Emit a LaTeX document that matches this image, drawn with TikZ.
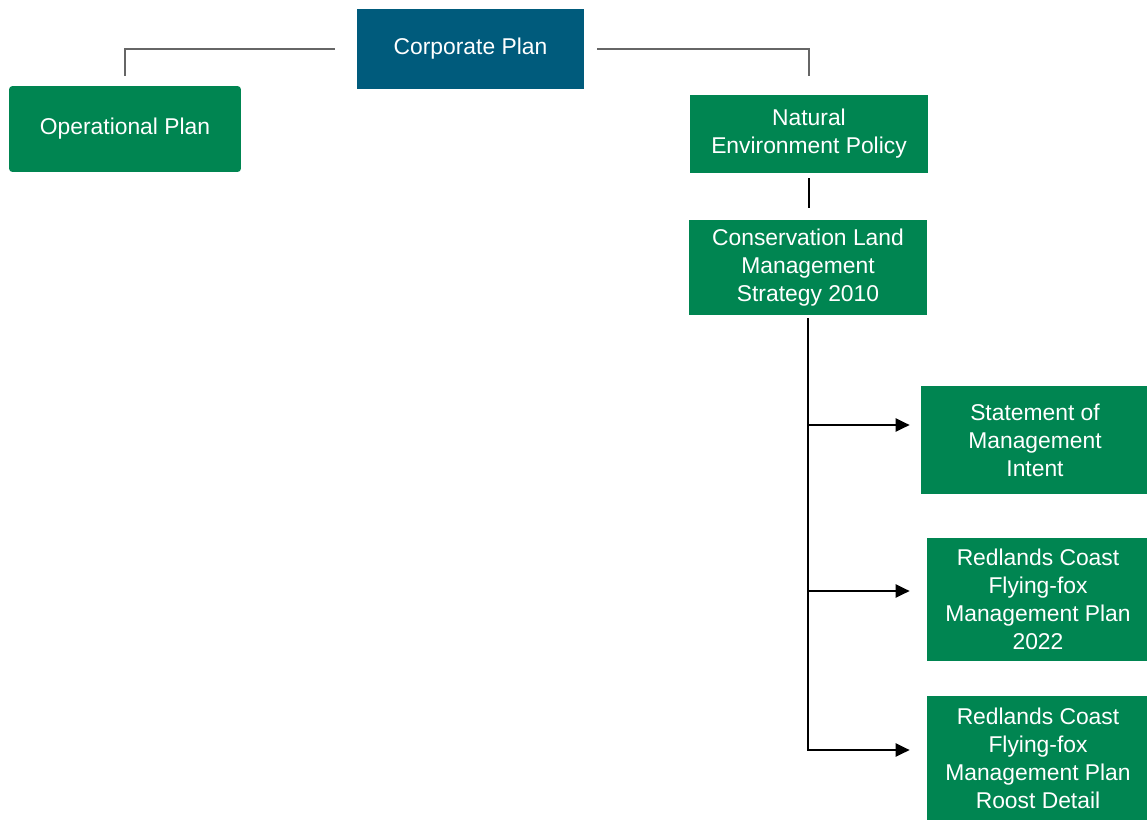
\documentclass[tikz,border=0pt]{standalone}
\usepackage{fontspec}
\setmainfont{Liberation Sans}
\usetikzlibrary{arrows.meta}
\definecolor{corpblue}{RGB}{0,91,124}
\definecolor{plangreen}{RGB}{0,133,81}

\begin{document}
\begin{tikzpicture}[
  x=0.02cm, y=-0.02cm,
  plan/.style={rectangle, fill=plangreen, text=white, align=center, inner sep=0pt, font=\fontsize{13}{16}\selectfont},
  link/.style={draw=black!60, line width=1.3pt},
  tree/.style={draw=black, line width=1.2pt},
  arrow/.style={tree, -{Triangle[length=0.28cm,width=0.26cm]}}
]
\useasboundingbox (0,0) rectangle (1147,819);
\node[plan, fill=corpblue, minimum width=4.54cm, minimum height=1.6cm] (corp) at (470.5,49) {Corporate Plan};
\node[plan, rounded corners=2pt, minimum width=4.64cm, minimum height=1.72cm] (op) at (125,129) {Operational Plan};
\node[plan, minimum width=4.76cm, minimum height=1.56cm] (nep) at (809,134) {Natural\\Environment Policy};
\node[plan, minimum width=4.78cm, minimum height=1.9cm] (cons) at (808,267.5) {Conservation Land\\Management\\Strategy 2010};
\node[plan, minimum width=4.56cm, minimum height=2.16cm] (smi) at (1035,440) {Statement of\\Management\\Intent};
\node[plan, minimum width=4.44cm, minimum height=2.46cm] (ffmp) at (1038,599.5) {Redlands Coast\\Flying-fox\\Management Plan\\2022};
\node[plan, minimum width=4.44cm, minimum height=2.48cm] (roost) at (1038,758) {Redlands Coast\\Flying-fox\\Management Plan\\Roost Detail};
% grey links from the corporate plan
\draw[link, shorten <=0.44cm, shorten >=0.2cm] (corp.west) -| (op.north);
\draw[link, shorten <=0.26cm, shorten >=0.38cm] (corp.east) -| (nep.north);
% policy to strategy
\draw[tree, shorten <=0.1cm, shorten >=0.24cm] (nep.south) -- (nep.south |- cons.north);
% strategy trunk with its three branches
\draw[arrow, shorten <=0.06cm, shorten >=0.34cm] (cons.south) |- (roost.west |- 0,750);
\draw[arrow, shorten >=0.22cm] (cons.south |- 0,425) -- (smi.west |- 0,425);
\draw[arrow, shorten >=0.34cm] (cons.south |- 0,591) -- (ffmp.west |- 0,591);
\end{tikzpicture}
\end{document}
